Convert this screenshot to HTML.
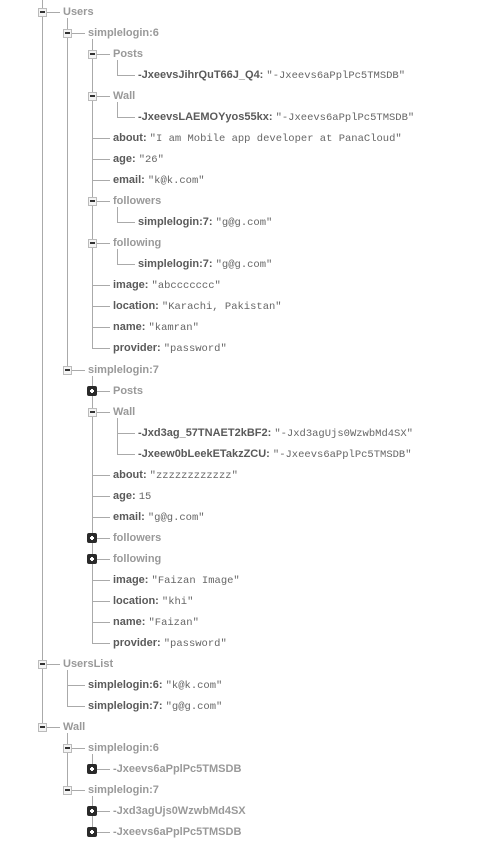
<!DOCTYPE html>
<html><head><meta charset="utf-8">
<style>
html,body{margin:0;padding:0;background:#fff;width:494px;height:855px;overflow:hidden;position:relative}
.t{position:absolute;white-space:nowrap;font-family:"Liberation Sans",sans-serif;font-size:11px;font-weight:bold;line-height:14px}
.n{color:#999}
.k{color:#5a5a5a}
.v{font-family:"Liberation Mono",monospace;font-weight:normal;color:#666;font-size:10.5px}
.h{position:absolute;height:1px;background:#aaa}
.vl{position:absolute;width:1px;background:#aaa}
.ic{position:absolute;width:9px;height:9px;box-sizing:border-box;border:1px solid #bbb;background:#f4f4f4}
.ic:after{content:"";position:absolute;left:1px;top:2px;width:5px;height:2px;background:#333}
.pl{width:10px;height:10px;background:#2a2a2a;border-color:#2a2a2a;border-radius:2px}
.pl:after{left:2px;top:3px;width:4px;height:2px;background:#fff}
.pl:before{content:"";position:absolute;left:3px;top:2px;width:2px;height:4px;background:#fff}
</style></head><body>
<script>
var items=[
[0,'Users','','m'],
[1,'simplelogin:6','','m'],
[2,'Posts','','m'],
[3,'-JxeevsJihrQuT66J_Q4:','"-Jxeevs6aPplPc5TMSDB"','l'],
[2,'Wall','','m'],
[3,'-JxeevsLAEMOYyos55kx:','"-Jxeevs6aPplPc5TMSDB"','l'],
[2,'about:','"I am Mobile app developer at PanaCloud"','l'],
[2,'age:','"26"','l'],
[2,'email:','"k@k.com"','l'],
[2,'followers','','m'],
[3,'simplelogin:7:','"g@g.com"','l'],
[2,'following','','m'],
[3,'simplelogin:7:','"g@g.com"','l'],
[2,'image:','"abccccccc"','l'],
[2,'location:','"Karachi, Pakistan"','l'],
[2,'name:','"kamran"','l'],
[2,'provider:','"password"','l'],
[1,'simplelogin:7','','m'],
[2,'Posts','','p'],
[2,'Wall','','m'],
[3,'-Jxd3ag_57TNAET2kBF2:','"-Jxd3agUjs0WzwbMd4SX"','l'],
[3,'-Jxeew0bLeekETakzZCU:','"-Jxeevs6aPplPc5TMSDB"','l'],
[2,'about:','"zzzzzzzzzzzz"','l'],
[2,'age:','15','l'],
[2,'email:','"g@g.com"','l'],
[2,'followers','','p'],
[2,'following','','p'],
[2,'image:','"Faizan Image"','l'],
[2,'location:','"khi"','l'],
[2,'name:','"Faizan"','l'],
[2,'provider:','"password"','l'],
[0,'UsersList','','m'],
[1,'simplelogin:6:','"k@k.com"','l'],
[1,'simplelogin:7:','"g@g.com"','l'],
[0,'Wall','','m'],
[1,'simplelogin:6','','m'],
[2,'-Jxeevs6aPplPc5TMSDB','','p'],
[1,'simplelogin:7','','m'],
[2,'-Jxd3agUjs0WzwbMd4SX','','p'],
[2,'-Jxeevs6aPplPc5TMSDB','','p']
];
var H='';
function Y(i){return 12+i*21.03;}
for(var i=0;i<items.length;i++){
  var L=items[i][0];
  var last=i,start;
  if(i==0 || items[i-1][0]==L-1){
    for(var j=i+1;j<items.length;j++){ if(items[j][0]<L)break; if(items[j][0]==L)last=j; }
    var x=42+25*L;
    start = i==0?0:Y(i-1)+6;
    H+='<div class="vl" style="left:'+x+'px;top:'+Math.round(start)+'px;height:'+Math.round(Y(last)-start)+'px"></div>';
  }
}
for(var i=0;i<items.length;i++){
  var it=items[i],L=it[0],x=42+25*L,y=Y(i);
  if(it[3]=='l'){
    H+='<div class="h" style="left:'+x+'px;top:'+Math.round(y)+'px;width:18px"></div>';
  } else {
    H+='<div class="h" style="left:'+(x+4)+'px;top:'+Math.round(y)+'px;width:14px"></div>';
    var o=it[3]=='p'?5:4;
    H+='<div class="ic'+(it[3]=='p'?' pl':'')+'" style="left:'+(x-o)+'px;top:'+Math.round(y-o)+'px"></div>';
  }
  var cls=it[3]=='l'?'k':'n';
  H+='<div class="t '+cls+'" style="left:'+(x+21)+'px;top:'+Math.round(y-7)+'px">'+it[1]+(it[2]?' <span class="v">'+it[2]+'</span>':'')+'</div>';
}
document.write(H);
</script>
</body></html>
